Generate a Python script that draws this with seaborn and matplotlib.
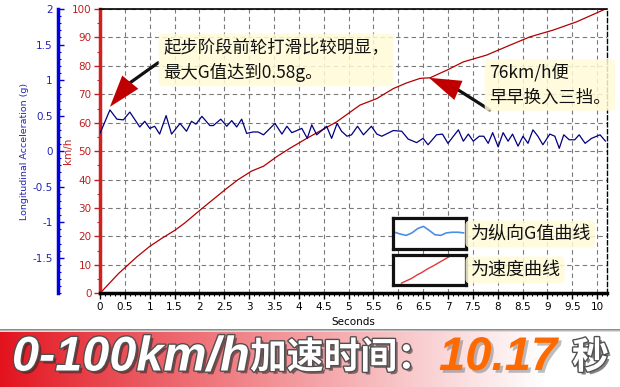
import numpy as np
import pandas as pd
import matplotlib
matplotlib.use("Agg")
import matplotlib.pyplot as plt
import matplotlib.patheffects as pe
from matplotlib.ticker import MultipleLocator
import seaborn as sns

# ---------------- data ----------------
time_speed = [0, 0.37, 0.52, 0.74, 1.0, 1.24, 1.51, 1.71, 2.05, 2.55, 2.78, 3.05, 3.29,
              3.55, 3.82, 4.16, 4.76, 5.23, 5.57, 5.9, 6.17, 6.44, 6.64, 6.98, 7.31,
              7.78, 8.25, 8.65, 9.12, 9.59, 10.17]
speed_kmh = [0, 6.9, 9.3, 12.8, 16.5, 19.3, 22.2, 24.8, 29.8, 36.9, 40, 43, 44.7,
             48, 51, 54.5, 60.3, 66.2, 68.5, 72, 74, 75.6, 75.8, 78.5, 81.4,
             83.8, 87.3, 90.2, 92.6, 95.5, 100]

time_acc = [0.0, 0.2, 0.34, 0.47, 0.6, 0.8, 0.9, 1.0, 1.1, 1.2, 1.33, 1.44, 1.61, 1.74,
            1.84, 1.93, 2.05, 2.21, 2.28, 2.43, 2.55, 2.65, 2.75, 2.85, 2.95, 3.08,
            3.18, 3.29, 3.52, 3.66, 3.76, 3.86, 4.06, 4.17, 4.26, 4.36, 4.56, 4.66,
            4.77, 4.86, 4.97, 5.06, 5.18, 5.3, 5.46, 5.57, 5.67, 5.9, 6.07, 6.2, 6.37,
            6.5, 6.6, 6.77, 6.89, 7.0, 7.21, 7.31, 7.41, 7.51, 7.63, 7.72, 7.81, 7.9,
            8.01, 8.11, 8.21, 8.3, 8.41, 8.51, 8.61, 8.71, 8.81, 8.91, 9.05, 9.15,
            9.24, 9.33, 9.44, 9.55, 9.64, 9.76, 9.89, 10.06, 10.17]
accel_g = [0.25, 0.58, 0.45, 0.44, 0.55, 0.34, 0.42, 0.32, 0.35, 0.24, 0.5, 0.24, 0.39,
           0.28, 0.42, 0.38, 0.49, 0.36, 0.36, 0.45, 0.35, 0.43, 0.34, 0.45, 0.25, 0.27,
           0.27, 0.23, 0.39, 0.24, 0.35, 0.26, 0.32, 0.18, 0.37, 0.23, 0.35, 0.18,
           0.39, 0.28, 0.21, 0.23, 0.35, 0.23, 0.35, 0.24, 0.21, 0.29, 0.28, 0.17, 0.12,
           0.18, 0.09, 0.23, 0.24, 0.11, 0.3, 0.14, 0.24, 0.14, 0.21, 0.21, 0.11, 0.26,
           0.06, 0.26, 0.14, 0.24, 0.07, 0.21, 0.11, 0.3, 0.21, 0.09, 0.24, 0.21,
           0.04, 0.23, 0.16, 0.16, 0.23, 0.11, 0.18, 0.23, 0.14]

x_ticks = [0, 0.5, 1, 1.5, 2, 2.5, 3, 3.5, 4, 4.5, 5, 5.5, 6, 6.5, 7, 7.5, 8, 8.5, 9, 9.5, 10]
x_tick_labels = ["0", "0.5", "1", "1.5", "2", "2.5", "3", "3.5", "4", "4.5", "5",
                 "5.5", "6", "6.5", "7", "7.5", "8", "8.5", "9", "9.5", "10"]
speed_ticks = [0, 10, 20, 30, 40, 50, 60, 70, 80, 90, 100]
g_ticks = [-1.5, -1, -0.5, 0, 0.5, 1, 1.5, 2]
g_tick_labels = ["-1.5", "-1", "-0.5", "0", "0.5", "1", "1.5", "2"]

legend_g_wave = [0.54, 0.48, 0.44, 0.52, 0.66, 0.73, 0.6, 0.46, 0.44, 0.52, 0.54, 0.54, 0.52]
legend_speed_line = [0.06, 0.14, 0.22, 0.33, 0.42, 0.53, 0.62, 0.72, 0.82, 0.92, 1.02]

note_slip = "起步阶段前轮打滑比较明显，\n最大G值达到0.58g。"
note_shift = "76km/h便\n早早换入三挡。"
legend_g_label = "为纵向G值曲线"
legend_speed_label = "为速度曲线"
banner_parts = ["0-100km/h", "加速时间：", "10.17", "秒"]

# ---------------- style ----------------
sns.set_theme(style="white")
plt.rcParams["font.family"] = ["DejaVu Sans", "Noto Sans CJK SC"]
CJK = ["Noto Sans CJK SC", "DejaVu Sans"]

W, H = 620, 387
fig = plt.figure(figsize=(6.2, 3.87), dpi=100)
fig.patch.set_facecolor("white")


def fx(px):
    return px / W


def fy(py):
    return 1 - py / H


X0, X1, Y0, Y1 = 100, 607, 293.3, 9
ax = fig.add_axes([fx(X0), fy(Y0), fx(X1) - fx(X0), fy(Y1) - fy(Y0)])
ax.set_facecolor("white")

df_speed = pd.DataFrame({"t": time_speed, "v": speed_kmh})
df_acc = pd.DataFrame({"t": time_acc, "g": accel_g})

sns.lineplot(data=df_speed, x="t", y="v", ax=ax, color="#b00000", lw=0.9, estimator=None)
ax.set_xlim(0, 10.2)
ax.set_ylim(0, 100)
ax.set_xticks(x_ticks)
ax.set_xticklabels(x_tick_labels)
ax.xaxis.set_minor_locator(MultipleLocator(0.1))
ax.set_yticks(speed_ticks)
ax.yaxis.set_minor_locator(MultipleLocator(5))
ax.tick_params(axis="x", which="major", labelsize=7.5, length=4, width=1,
               direction="out", color="black", labelcolor="black", pad=2, bottom=True)
ax.tick_params(axis="x", which="minor", length=2, width=0.8, direction="out",
               color="black", bottom=True)
ax.tick_params(axis="y", which="major", labelsize=7.5, length=4, width=1,
               direction="out", color="#c02020", labelcolor="#c02020", pad=2, left=True)
ax.tick_params(axis="y", which="minor", length=2, width=0.8, direction="out",
               color="#c02020", left=True)
ax.grid(True, which="major", linestyle=(0, (4, 3)), color="#7a7a7a", lw=0.8)
ax.set_xlabel("Seconds", fontsize=7.5, color="black")
ax.xaxis.set_label_coords(0.5, (Y0 - 322) / (Y0 - Y1))
ax.xaxis.label.set_va("center")
ax.set_ylabel("km/h", fontsize=7.5, color="#c02020")
ax.yaxis.set_label_coords((68 - X0) / (X1 - X0), 0.5)
ax.yaxis.label.set_va("center")

ax.spines["left"].set_color("#d02020")
ax.spines["left"].set_linewidth(2.5)
ax.spines["bottom"].set_color("black")
ax.spines["bottom"].set_linewidth(2.5)
ax.spines["top"].set_color("black")
ax.spines["top"].set_linewidth(1.2)
ax.spines["right"].set_color("black")
ax.spines["right"].set_linewidth(1)
ax.spines["right"].set_linestyle((0, (3, 2)))

# acceleration axis
axg = ax.twinx()
sns.lineplot(data=df_acc, x="t", y="g", ax=axg, color="#000080", lw=0.9, estimator=None)
axg.set_xlim(0, 10.2)
axg.set_ylim(-2, 2)
axg.yaxis.tick_left()
axg.yaxis.set_label_position("left")
axg.set_yticks(g_ticks)
axg.set_yticklabels(g_tick_labels)
axg.yaxis.set_minor_locator(MultipleLocator(0.1))
axg.tick_params(axis="y", which="major", labelsize=7.5, length=4, width=1,
                direction="in", color="#0000d0", labelcolor="#2323b8", pad=4,
                left=True, right=False)
axg.tick_params(axis="y", which="minor", length=2, width=0.8, direction="in",
                color="#0000d0", left=True, right=False)
for s in ["right", "top", "bottom"]:
    axg.spines[s].set_visible(False)
axg.spines["left"].set_visible(True)
axg.spines["left"].set_position(("axes", (58 - X0) / (X1 - X0)))
axg.spines["left"].set_color("#0000e0")
axg.spines["left"].set_linewidth(2.5)
axg.set_ylabel("Longitudinal Acceleration (g)", fontsize=6.8, color="#2323b8")
axg.yaxis.set_label_coords((25 - X0) / (X1 - X0), 0.5)
axg.yaxis.label.set_va("center")
axg.grid(False)

# arrows (speed-axis data coordinates)
tr = ax.transData
axg.annotate("", xy=(0.6, 74.0), xycoords=tr, xytext=(1.17, 81.1), textcoords=tr,
             arrowprops=dict(arrowstyle="-", color="#111111", lw=2.3, shrinkA=0, shrinkB=0))
axg.annotate("", xy=(0.2, 65.6), xycoords=tr, xytext=(0.62, 74.5), textcoords=tr,
             arrowprops=dict(arrowstyle="-|>,head_length=2.3,head_width=0.75",
                             color="#c00000", lw=0, shrinkA=0, shrinkB=0,
                             mutation_scale=10))
axg.annotate("", xy=(7.2, 71.6), xycoords=tr, xytext=(7.84, 64.5), textcoords=tr,
             arrowprops=dict(arrowstyle="-", color="#111111", lw=2.3, shrinkA=0, shrinkB=0))
axg.annotate("", xy=(6.62, 75.8), xycoords=tr, xytext=(7.22, 71.3), textcoords=tr,
             arrowprops=dict(arrowstyle="-|>,head_length=2.3,head_width=0.75",
                             color="#c00000", lw=0, shrinkA=0, shrinkB=0,
                             mutation_scale=10))

glow = dict(boxstyle="round,pad=0.25", fc="#fffbd6", ec="none", alpha=0.85)
fig.text(fx(163), fy(60), note_slip, fontsize=12.5, family=CJK, color="#111111",
         ha="left", va="center", linespacing=1.45, bbox=glow)
fig.text(fx(489), fy(85), note_shift, fontsize=12.5, family=CJK, color="#111111",
         ha="left", va="center", linespacing=1.45, bbox=glow)

# legend boxes
lax1 = fig.add_axes([fx(393), fy(249), fx(466) - fx(393), fy(218) - fy(249)])
sns.lineplot(x=list(range(len(legend_g_wave))), y=legend_g_wave, ax=lax1,
             color="#4a90e2", lw=1.2)
lax1.set_xlim(-0.3, len(legend_g_wave) - 0.6)
lax1.set_ylim(0, 1)
lax2 = fig.add_axes([fx(393), fy(285), fx(466) - fx(393), fy(255) - fy(285)])
sns.lineplot(x=list(range(len(legend_speed_line))), y=legend_speed_line, ax=lax2,
             color="#e03838", lw=1.0)
lax2.set_xlim(-1.6, 12.5)
lax2.set_ylim(0, 1)
for lx in (lax1, lax2):
    lx.set_facecolor("white")
    lx.set_xticks([])
    lx.set_yticks([])
    lx.set_xlabel("")
    lx.set_ylabel("")
    for s in lx.spines.values():
        s.set_visible(True)
        s.set_color("#111111")
        s.set_linewidth(2.3)

fig.text(fx(470), fy(234), legend_g_label, fontsize=13, family=CJK, color="#111111",
         ha="left", va="center", bbox=glow)
fig.text(fx(470), fy(270), legend_speed_label, fontsize=13, family=CJK, color="#111111",
         ha="left", va="center", bbox=glow)

# banner
bh = 58
bax = fig.add_axes([0, 0, 1, bh / H])
frac = np.linspace(0, 1, W)
w = np.clip(frac / 0.88, 0, 1) ** 0.9
red = np.array([0.89, 0.07, 0.11])
row = red[None, :] * (1 - w[:, None]) + np.ones(3)[None, :] * w[:, None]
img = np.repeat(row[None, :, :], bh, axis=0)
img[0, :, :] = 0.55
img[1, :, :] = 0.72
img[2, :, :] = 0.86
bax.imshow(img, aspect="auto", extent=[0, 1, 0, 1], interpolation="bilinear")
bax.set_axis_off()

shadow = [pe.SimplePatchShadow(offset=(2, -2), shadow_rgbFace="#222222", alpha=0.55),
          pe.Stroke(linewidth=2, foreground="#505050"), pe.Normal()]
yb = fy(358)
fig.text(fx(12), yb, banner_parts[0], fontsize=35, family="Liberation Sans",
         weight="bold", style="italic", color="white", ha="left", va="center",
         path_effects=shadow)
fig.text(fx(250), yb, banner_parts[1], fontsize=26.5, family=CJK, weight="heavy",
         color="white", ha="left", va="center", path_effects=shadow)
fig.text(fx(439), yb, banner_parts[2], fontsize=34, family="Liberation Sans",
         weight="bold", style="italic", color="#ff6a00", ha="left", va="center",
         path_effects=[pe.SimplePatchShadow(offset=(2, -2), shadow_rgbFace="#444444",
                                            alpha=0.35), pe.Normal()])
fig.text(fx(572), yb, banner_parts[3], fontsize=26.5, family=CJK, weight="heavy",
         color="white", ha="left", va="center", path_effects=shadow)

fig.savefig("out.png", dpi=100)
